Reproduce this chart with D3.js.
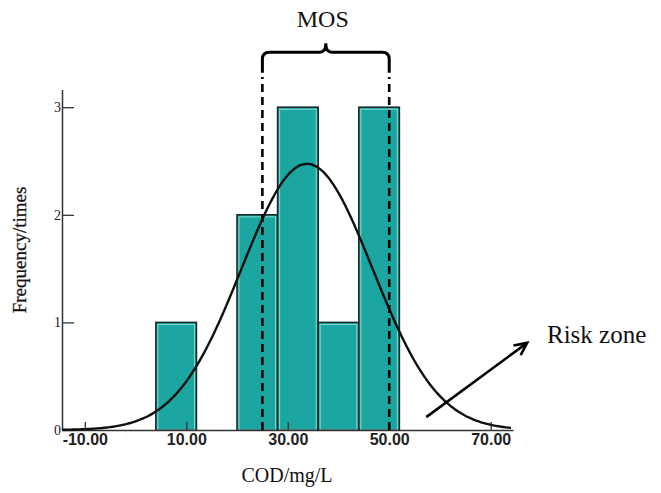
<!DOCTYPE html>
<html lang="en">
<head>
    <meta charset="utf-8">
    <title>COD histogram</title>
    <script src="https://d3js.org/d3.v7.min.js"></script>
    <style>
        body {
            margin: 0;
            background: #fff;
        }
        svg {
            display: block;
        }
        .tick text {
            fill: #222;
        }
        .serif {
            font-family: "Liberation Serif", "DejaVu Serif", serif;
            fill: #111;
        }
    </style>
</head>
<body>
<svg id="chart" width="661" height="493"></svg>
<script type="text/javascript">
    // histogram bins (COD, mg/L) and counts
    const binStarts = [4, 12, 20, 28, 36, 44];
    const binWidth = 8;
    const counts = [1, 0, 2, 3, 1, 3];
    const xTicks = [-10, 10, 30, 50, 70];
    const yTicks = [0, 1, 2, 3];

    // fitted normal curve
    const meanCOD = 33.8;
    const sdCOD = 12.9;
    const sampleN = 10;

    // MOS limits and risk arrow (data units)
    const mosLimits = [25, 50];
    const arrowFrom = [57.3, 0.12];
    const arrowTo = [77.2, 0.81];

    const svg = d3.select('#chart');

    const x = d3.scaleLinear().domain([-14.5, 74.4]).range([62, 513]);
    const y = d3.scaleLinear().domain([0, 3.16]).range([430, 90]);

    // bars
    const bars = svg.append('g').attr('class', 'bars')
        .selectAll('g')
        .data(binStarts.map((s, i) => ({start: s, count: counts[i]})).filter(d => d.count > 0))
        .join('g');

    bars.append('rect')
        .attr('x', d => x(d.start))
        .attr('y', d => y(d.count))
        .attr('width', d => x(d.start + binWidth) - x(d.start))
        .attr('height', d => y(0) - y(d.count))
        .attr('fill', '#1ba6a1')
        .attr('stroke', '#1c2b2b')
        .attr('stroke-width', 1.6);

    // light inner edge
    bars.append('rect')
        .attr('x', d => x(d.start) + 2)
        .attr('y', d => y(d.count) + 2)
        .attr('width', d => x(d.start + binWidth) - x(d.start) - 4)
        .attr('height', d => y(0) - y(d.count) - 2)
        .attr('fill', 'none')
        .attr('stroke', '#86d9d3')
        .attr('stroke-width', 1);

    // axes
    const fmt2 = d3.formatLocale({decimal: '.', thousands: ',', grouping: [3], currency: ['', ''], minus: '-'}).format('.2f');
    const xAxis = svg.append('g')
        .attr('transform', 'translate(0,' + y(0) + ')')
        .call(d3.axisBottom(x)
            .tickValues(xTicks)
            .tickFormat(fmt2)
            .tickSizeInner(-8)
            .tickSizeOuter(0)
            .tickPadding(4));

    const yAxis = svg.append('g')
        .attr('transform', 'translate(' + x.range()[0] + ',0)')
        .call(d3.axisLeft(y)
            .tickValues(yTicks)
            .tickFormat(d3.format('d'))
            .tickSizeInner(-12)
            .tickSizeOuter(0)
            .tickPadding(1));

    [xAxis, yAxis].forEach(a => {
        a.select('.domain').attr('stroke', '#333').attr('stroke-width', 1.5);
        a.selectAll('.tick line').attr('stroke', '#333').attr('stroke-width', 1.3);
    });
    xAxis.selectAll('.tick text')
        .attr('font-family', '"Liberation Sans", Arial, sans-serif')
        .attr('font-weight', 'bold')
        .attr('font-size', 16);
    yAxis.selectAll('.tick text')
        .attr('font-family', '"Liberation Serif", serif')
        .attr('font-size', 14)
        .attr('dy', '0.3em');
    yAxis.select('.domain').attr('d', 'M0.5,' + y(0) + 'V' + y(3.16));

    // normal curve
    const peak = sampleN * binWidth / (sdCOD * Math.sqrt(2 * Math.PI));
    const curveX = d3.range(-14.5, 74.41, 0.5);
    const line = d3.line()
        .x(d => x(d))
        .y(d => y(peak * Math.exp(-Math.pow(d - meanCOD, 2) / (2 * sdCOD * sdCOD))))
        .curve(d3.curveBasis);
    svg.append('path')
        .datum(curveX)
        .attr('d', line)
        .attr('fill', 'none')
        .attr('stroke', '#111')
        .attr('stroke-width', 2.4);

    // MOS dashed limits
    svg.append('g').selectAll('line')
        .data(mosLimits)
        .join('line')
        .attr('x1', d => x(d))
        .attr('x2', d => x(d))
        .attr('y1', y(0))
        .attr('y2', y(3.28))
        .attr('stroke', '#000')
        .attr('stroke-width', 2.6)
        .attr('stroke-dasharray', '8,5');

    // curly brace over MOS
    const bx0 = x(mosLimits[0]), bx1 = x(mosLimits[1]);
    const bmid = (bx0 + bx1) / 2;
    const bTop = y(3.51), bEnd = y(3.32), r = 7;
    svg.append('path')
        .attr('d', 'M' + bx0 + ',' + bEnd +
            'V' + (bTop + r) +
            'Q' + bx0 + ',' + bTop + ' ' + (bx0 + r) + ',' + bTop +
            'H' + (bmid - 6) +
            'Q' + bmid + ',' + bTop + ' ' + bmid + ',' + (bTop - 9) +
            'Q' + bmid + ',' + bTop + ' ' + (bmid + 6) + ',' + bTop +
            'H' + (bx1 - r) +
            'Q' + bx1 + ',' + bTop + ' ' + bx1 + ',' + (bTop + r) +
            'V' + bEnd)
        .attr('fill', 'none')
        .attr('stroke', '#000')
        .attr('stroke-width', 3);

    svg.append('text')
        .attr('class', 'serif')
        .attr('x', bmid - 3)
        .attr('y', 27)
        .attr('text-anchor', 'middle')
        .attr('font-size', 24)
        .text('MOS');

    // risk zone arrow
    const ax0 = x(arrowFrom[0]), ay0 = y(arrowFrom[1]);
    const ax1 = x(arrowTo[0]), ay1 = y(arrowTo[1]);
    const ang = Math.atan2(ay1 - ay0, ax1 - ax0);
    const head = 14, spread = 0.45;
    svg.append('path')
        .attr('d', 'M' + ax0 + ',' + ay0 + 'L' + ax1 + ',' + ay1 +
            'M' + (ax1 - head * Math.cos(ang - spread)) + ',' + (ay1 - head * Math.sin(ang - spread)) +
            'L' + ax1 + ',' + ay1 +
            'L' + (ax1 - head * Math.cos(ang + spread)) + ',' + (ay1 - head * Math.sin(ang + spread)))
        .attr('fill', 'none')
        .attr('stroke', '#000')
        .attr('stroke-width', 2.6);

    svg.append('text')
        .attr('class', 'serif')
        .attr('x', 547)
        .attr('y', 343)
        .attr('font-size', 25)
        .text('Risk zone');

    // axis titles
    svg.append('text')
        .attr('class', 'serif')
        .attr('transform', 'translate(26,250) rotate(-90)')
        .attr('text-anchor', 'middle')
        .attr('font-size', 19)
        .attr('fill', '#222')
        .attr('stroke', '#222')
        .attr('stroke-width', 0.3)
        .text('Frequency/times');

    svg.append('text')
        .attr('class', 'serif')
        .attr('x', 287)
        .attr('y', 482)
        .attr('text-anchor', 'middle')
        .attr('font-size', 20)
        .text('COD/mg/L');
</script>
</body>
</html>
